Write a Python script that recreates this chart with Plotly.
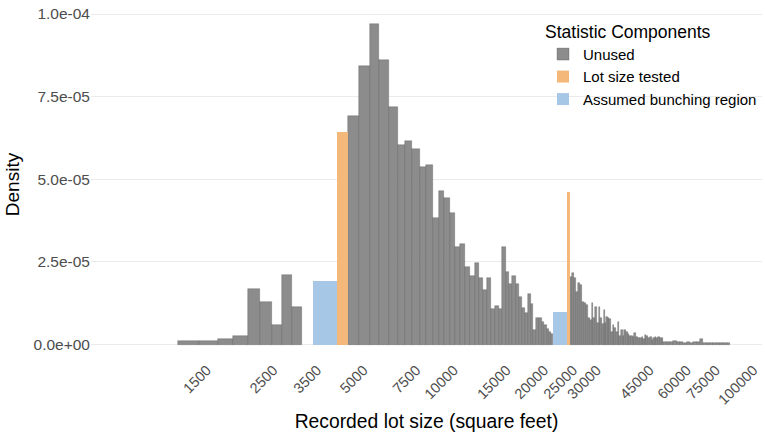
import numpy as np
import plotly.graph_objects as go

# ---------------- data ----------------
x_tick_values = [1500, 2500, 3500, 5000, 7500, 10000, 15000, 20000, 25000,
                 30000, 45000, 60000, 75000, 100000]
y_tick_values = [0, 2.5e-5, 5e-5, 7.5e-5, 1e-4]
y_tick_text = ["0.0e+00", "2.5e-05", "5.0e-05", "7.5e-05", "1.0e-04"]

# Unused bins, low range (lot size edges in sq ft, density x1e-5)
unused_low_edges = [1230, 1447, 1671, 1879, 2104, 2314, 2525, 2739, 2944, 3180]
unused_low_density = [0.097, 0.115, 0.16, 0.25, 1.68, 1.28, 0.60, 2.10, 1.13]

# Unused bins, middle range
unused_mid_edges = [4539, 4952, 5376, 5773, 6220, 6651, 7050, 7439, 7876, 8285,
                    8703, 9134, 9514, 9917, 10353, 10759, 11172, 11592, 12000,
                    12394, 12781, 13211, 13623, 14081, 14454, 14825, 15287,
                    15679, 16044, 16469, 16853, 17246, 17688, 18100, 18522,
                    18852, 19292, 19697, 20110, 20515, 20897, 21275, 21605, 21889]
unused_mid_density = [6.90, 8.44, 9.69, 8.60, 7.18, 6.03, 6.15, 5.92, 5.36, 5.42,
                      3.82, 4.65, 4.44, 3.97, 2.96, 3.03, 2.35, 2.07, 2.47, 2.02,
                      1.66, 2.02, 1.08, 1.17, 1.08, 2.94, 2.18, 1.82, 2.06, 1.82,
                      1.44, 1.10, 0.96, 1.52, 1.22, 0.44, 0.79, 0.79, 0.69, 0.59,
                      0.47, 0.39, 0.31]

# Unused bins, upper tail
unused_tail_edges = [25000, 25330, 25710, 26100, 26500, 26960, 27440, 27780, 28200,
                     28630, 29080, 29520, 29900, 30280, 30740, 31130, 31530, 31930,
                     32340, 32670, 33080, 33510, 33850, 34280, 34720, 35170, 35620,
                     36080, 36550, 37020, 37500, 37990, 38480, 38970, 39480, 39990,
                     40510, 41030, 41570, 42100, 42650, 43370, 43770, 44500, 44910,
                     45650, 46090, 46840, 47290, 48050, 48540, 49290, 49810, 50570,
                     51110, 52550, 53920, 55310, 56750, 58220, 59730, 61280, 62870,
                     64500, 66170, 67880, 69640, 71450, 73300, 75190, 77150, 79180,
                     81230, 83340, 85500]
unused_tail_density = [2.05, 2.17, 2.00, 1.60, 1.85, 1.80, 1.30, 1.27, 1.20, 0.79,
                       0.74, 1.25, 0.79, 1.14, 0.64, 1.14, 0.79, 0.61, 1.04, 0.66,
                       0.82, 0.79, 0.76, 0.39, 0.59, 0.49, 0.39, 0.69, 0.26, 0.44,
                       0.26, 0.44, 0.39, 0.32, 0.26, 0.26, 0.24, 0.34, 0.24, 0.19,
                       0.19, 0.24, 0.16, 0.29, 0.26, 0.19, 0.24, 0.14, 0.19, 0.22,
                       0.19, 0.22, 0.21, 0.19,
                       0.08, 0.07, 0.08, 0.10, 0.07, 0.07, 0.06, 0.07, 0.06, 0.07,
                       0.09, 0.18, 0.06, 0.05, 0.05, 0.06, 0.05, 0.05, 0.04, 0.04]

# Lot size tested bins
tested_lo = [4171, 24487]
tested_hi = [4539, 24950]
tested_density = [6.42, 4.60]

# Assumed bunching region bins
bunch_lo = [3468, 21889]
bunch_hi = [4171, 24487]
bunch_density = [1.93, 0.97]

SCALE = 1e-5


def bars_from_edges(edges, dens):
    e = np.log10(np.array(edges, dtype=float))
    return (e[:-1] + e[1:]) / 2, np.diff(e), np.array(dens) * SCALE


def bars_from_pairs(lo, hi, dens):
    l = np.log10(np.array(lo, dtype=float))
    h = np.log10(np.array(hi, dtype=float))
    return (l + h) / 2, h - l, np.array(dens) * SCALE


parts = [bars_from_edges(unused_low_edges, unused_low_density),
         bars_from_edges(unused_mid_edges, unused_mid_density),
         bars_from_edges(unused_tail_edges, unused_tail_density)]
ux = np.concatenate([p[0] for p in parts])
uw = np.concatenate([p[1] for p in parts])
uy = np.concatenate([p[2] for p in parts])

tx, tw, ty = bars_from_pairs(tested_lo, tested_hi, tested_density)
bx, bw, by = bars_from_pairs(bunch_lo, bunch_hi, bunch_density)

GRAY = "rgb(140,140,140)"
ORANGE = "rgb(244,185,122)"
BLUE = "rgb(166,200,230)"

fig = go.Figure()
fig.add_trace(go.Bar(x=ux, y=uy, width=uw, name="Unused",
                     marker=dict(color=GRAY, line=dict(color="rgba(60,60,60,0.45)", width=0.6))))
fig.add_trace(go.Bar(x=tx, y=ty, width=tw, name="Lot size tested",
                     marker=dict(color=ORANGE, line=dict(width=0))))
fig.add_trace(go.Bar(x=bx, y=by, width=bw, name="Assumed bunching region",
                     marker=dict(color=BLUE, line=dict(width=0))))

FONT = "Liberation Sans, Arial, sans-serif"

fig.update_layout(
    width=765, height=432,
    margin=dict(l=91, r=3, t=8, b=71),
    paper_bgcolor="white", plot_bgcolor="white",
    barmode="overlay", bargap=0,
    font=dict(family=FONT, color="#1a1a1a"),
    showlegend=True,
    legend=dict(
        x=1.0, y=0.98, xanchor="right", yanchor="top",
        bgcolor="rgba(0,0,0,0)", borderwidth=0,
        title=dict(text="Statistic Components", font=dict(size=17.5, color="#000000")),
        font=dict(size=15, color="#000000"),
        traceorder="normal", itemclick=False,
    ),
    xaxis=dict(
        range=[2.79914, 5.03879],
        tickmode="array",
        tickvals=np.log10(x_tick_values),
        ticktext=[str(v) for v in x_tick_values],
        tickangle=-45,
        tickfont=dict(size=14.5, color="#4d4d4d"),
        ticklabelshift=3,
        ticklabelstandoff=-3,
        showgrid=False, zeroline=False, showline=False, ticks="",
        automargin=False,
        title=dict(text="Recorded lot size (square feet)", font=dict(size=19.3, color="#000000"),
                   standoff=14),
    ),
    yaxis=dict(
        range=[-4.992e-6, 1.01815e-4],
        tickmode="array",
        tickvals=y_tick_values,
        ticktext=y_tick_text,
        tickfont=dict(size=15.5, color="#4d4d4d"),
        showgrid=True, gridcolor="#ebebeb", gridwidth=1.1,
        zeroline=False, showline=False, ticks="",
        automargin=False,
        title=dict(text="Density", font=dict(size=19, color="#000000"), standoff=8),
    ),
)

fig.write_html("out.html")
